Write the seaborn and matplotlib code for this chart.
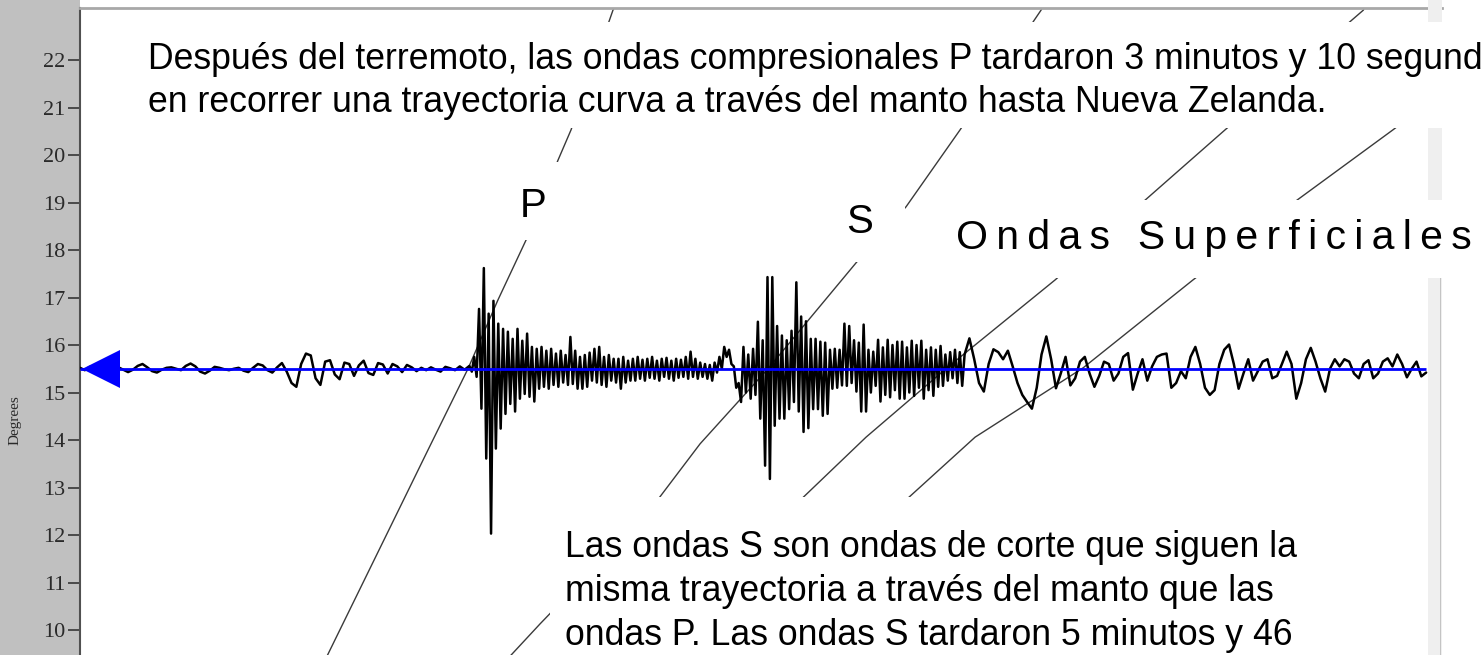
import matplotlib
matplotlib.use("Agg")
import numpy as np
import pandas as pd
import matplotlib.pyplot as plt
from matplotlib.patches import Rectangle
import seaborn as sns

# ---------------------------------------------------------------------------
# Data
# ---------------------------------------------------------------------------
# Epicentral distance of the recording station (degrees)
station_deg = 15.5

# Seismogram sampling: start time (s after origin) and sample interval (s)
trace_start_s = -11.75
sample_step_s = 2.5

# Ground motion before the P arrival, hundredths of a degree from the station line
trace_pre_p = [2, -3, 4, -2, 3, -4, 2, -2, 3, -2,
               -7, -2, 6, 10, 3, -5, -8, -2,
               2, 3, 0, -3, 6, 11, 5, -6,
               -10, -4, 4, 2, -1, -3, 0, 2,
               -4, -7, 2, 10, 7, -3, -8, 3,
               12, -6, -30, -38, 10, 32, 28, -20, -34,
               15, 18, -12, -22, 13, 10, -15, 7, 17, -9, -13, 12, 9, -10, 10, 5, -7, 8, 3,
               -5, 2, -3, 3, -2, -6, 4, 1, -3, 5, -2]

# P and S codas: highest and lowest excursion in each sample interval
coda_high = [6, 25, 126, 212, 116, 143, 95, 84, 78, 63, 84, 59, 74, 46, 42, 46, 38, 42, 32, 38,
             29, 67, 38, 25, 29, 34, 42, 46, 25, 29, 21, 21, 25, 17, 21, 25, 19, 21, 25, 17,
             21, 23, 17, 21, 19, 25, 36, 21, 13, 10, 8, 13, 25, 46, 40, 5, -30, 46, 30, 42,
             99, 60, 193, 193, 90, 70, 60, 80, 182, 110, 100, 63, 63, 57, 55, 40, 42, 40, 95, 90,
             60, 55, 93, 40, 36, 61, 45, 61, 50, 57, 57, 45, 59, 50, 59, 40, 45, 40, 48, 30,
             35, 40, 35]
coda_low = [-6, -17, -84, -189, -347, -168, -126, -95, -74, -90, -63, -53, -59, -69, -42, -38, -42,
            -34, -38, -29, -34, -32, -42, -42, -38, -25, -29, -34, -38, -25, -29, -42, -29, -25,
            -25, -21, -25, -19, -21, -25, -17, -21, -25, -19, -17, -21, -17, -21, -17, -21, -25,
            -8, 0, 25, 10, -40, -70, -50, -63, -55, -105, -204, -232, -120, -105, -105, -85, -70,
            -90, -133, -125, -85, -85, -99, -95, -42, -40, -35, -36, -30, -48, -90, -90, -50, -36,
            -69, -55, -60, -45, -63, -63, -50, -57, -40, -63, -45, -57, -38, -36, -25, -20, -30,
            -36]

# Surface-wave train after the S coda
trace_surface = [30, 64, 20, -30, -48, 10, 41, 35, 20, 38, 5, -30, -55, -70, -84, -40, 30, 68, 20,
                 -41, -10, 25, -35, -20, 15, 25, -10, -38, -15, 15, 10, -25, -10, 25, 33, -44, -10,
                 20, -25, 5, 25, 30, 32, -40, -30, -5, -20, 25, 46, 10, -40, -55, -45, 10, 40, 51,
                 10, -42, -10, 20, -25, -5, 15, 20, -20, -15, 10, 36, 10, -63, -30, 20, 44, 15,
                 -20, -48, 0, 20, 5, 20, 15, -10, -20, 10, 18, -20, -10, 15, 22, 5, 30, 10, -18, 0,
                 15, -16, -8]

# Travel-time curves: epicentral distance (deg) against arrival time (s)
p_dist = [23.3, 23.05, 20.53, 19.89, 18.21, 16.95, 15.5, 13.79, 12.59, 9.45]
p_time = [268.5, 265.4, 243.6, 236.8, 220.2, 205.6, 190.0, 169.2, 154.7, 116.7]

s_dist = [23.3, 23.05, 20.53, 18.91, 17.73, 15.5, 13.92, 12.53, 10.13, 9.45]
s_time = [491.0, 488.0, 445.9, 417.8, 391.8, 346.0, 310.7, 284.7, 227.5, 211.9]

love_dist = [23.3, 23.05, 20.53, 19.05, 17.37, 15.52, 14.06, 12.63, 9.45]
love_time = [658.0, 655.6, 583.7, 542.1, 495.3, 439.1, 397.0, 360.1, 268.5]

rayleigh_dist = [23.05, 20.53, 19.05, 17.37, 15.52, 14.06, 12.53, 9.45]
rayleigh_time = [752.6, 671.0, 621.1, 567.0, 509.9, 453.7, 412.1, 310.7]

deg_ticks = list(range(10, 23))

text_top = ("Después del terremoto, las ondas compresionales P tardaron 3 minutos y 10 segundos\n"
            "en recorrer una trayectoria curva a través del manto hasta Nueva Zelanda.")
text_bottom = ("Las ondas S son ondas de corte que siguen la\n"
               "misma trayectoria a través del manto que las\n"
               "ondas P. Las ondas S tardaron 5 minutos y 46\n"
               "segundos en viajar desde el terremoto hasta")
label_p = "P"
label_s = "S"
label_surface = "Ondas Superficiales"

# ---------------------------------------------------------------------------
# Assemble the trace
# ---------------------------------------------------------------------------
n_pre = len(trace_pre_p)
pre_t = trace_start_s + sample_step_s * np.arange(n_pre)

coda_t0 = trace_start_s + sample_step_s * (n_pre + np.arange(len(coda_high)))
coda_t = np.column_stack([coda_t0, coda_t0 + sample_step_s / 2]).ravel()
coda_v = np.column_stack([coda_high, coda_low]).ravel()

surf_t = trace_start_s + sample_step_s * (n_pre + len(coda_high) + np.arange(len(trace_surface)))

times = np.concatenate([pre_t, coda_t, surf_t])
values = np.concatenate([trace_pre_p, coda_v, trace_surface]) / 100.0
df_trace = pd.DataFrame({"t": times, "deg": station_deg + values})

curves = pd.concat([
    pd.DataFrame({"t": p_time, "deg": p_dist, "phase": "P"}),
    pd.DataFrame({"t": s_time, "deg": s_dist, "phase": "S"}),
    pd.DataFrame({"t": love_time, "deg": love_dist, "phase": "L"}),
    pd.DataFrame({"t": rayleigh_time, "deg": rayleigh_dist, "phase": "R"}),
])

# ---------------------------------------------------------------------------
# Figure
# ---------------------------------------------------------------------------
sns.set_style("white")
plt.rcParams["font.family"] = ["Liberation Sans", "DejaVu Sans"]
plt.rcParams["text.color"] = "black"

W, H = 1483, 655
fig = plt.figure(figsize=(W / 100, H / 100), dpi=100, facecolor="white")


def fx(px):
    return px / W


def fy(py):
    return 1 - py / H


# grey strip behind the degree scale
fig.add_artist(Rectangle((0, 0), fx(80), 1, transform=fig.transFigure,
                         facecolor="#c0c0c0", edgecolor="none", zorder=0))

ax = fig.add_axes([fx(80), 0, fx(1442) - fx(80), 1 - 8 / H])
ax.set_facecolor("white")

for _, grp in curves.groupby("phase", sort=False):
    sns.lineplot(data=grp, x="t", y="deg", sort=False, estimator=None,
                 color="#3a3a3a", linewidth=1.0, ax=ax, zorder=2)

sns.lineplot(data=df_trace, x="t", y="deg", sort=False, estimator=None,
             color="black", linewidth=1.8, ax=ax, zorder=3)
ax.plot([times[0], times[-1]], [station_deg, station_deg],
        color="#0000ff", linewidth=2.0, zorder=4, solid_capstyle="butt")
ax.plot([times[0] + 10.9], [station_deg], marker="<", markersize=27.5,
        color="#0000ff", markeredgewidth=0, zorder=5)

ax.set_xlim(-11.75, 696.5)
ax.set_ylim(9.474, 23.095)
ax.set_xticks([])
ax.set_yticks(deg_ticks)
ax.set_yticklabels([str(d) for d in deg_ticks], family="Liberation Serif",
                   fontsize=16, color="#2a2a2a")
ax.tick_params(axis="y", direction="out", length=9, width=1.3, color="#404040", pad=1.5, left=True)
ax.set_xlabel("")
ax.set_ylabel("")
for side in ["right", "bottom"]:
    ax.spines[side].set_visible(False)
ax.spines["left"].set_color("#505050")
ax.spines["left"].set_linewidth(1.5)
ax.spines["top"].set_color("#a8a8a8")
ax.spines["top"].set_linewidth(2.0)

fig.text(fx(15), fy(420), "Degrees", rotation=90, ha="center", va="center",
         family="Liberation Serif", fontsize=11, color="#2a2a2a")

# light scroll strip at the right edge of the plot
fig.add_artist(Rectangle((fx(1428), 0), fx(1442) - fx(1428), 1, transform=fig.transFigure,
                         facecolor="#efefef", edgecolor="none", zorder=1))
fig.add_artist(Rectangle((fx(1439.5), 0), fx(1.5), fy(278), transform=fig.transFigure,
                         facecolor="#c4c4c4", edgecolor="none", zorder=1))


def white_box(x0, y0, x1, y1):
    fig.add_artist(Rectangle((fx(x0), fy(y1)), fx(x1) - fx(x0), fy(y0) - fy(y1),
                             transform=fig.transFigure, facecolor="white",
                             edgecolor="none", zorder=2))


white_box(140, 22, 1483, 128)
white_box(505, 162, 562, 240)
white_box(832, 207, 905, 262)
white_box(940, 200, 1483, 278)
white_box(550, 497, 1427, 655)

fig.text(fx(148), fy(81), text_top, ha="left", va="center", fontsize=25.7,
         linespacing=1.30, color="black", zorder=3)
fig.text(fx(533), fy(206), label_p, ha="center", va="center", fontsize=29,
         color="black", zorder=3)
fig.text(fx(860), fy(222), label_s, ha="center", va="center", fontsize=29,
         color="black", zorder=3)
fig.text(fx(956), fy(238), "\u2009".join(label_surface), ha="left", va="center",
         fontsize=29.5, color="black", zorder=3)
fig.text(fx(565), fy(530), text_bottom, ha="left", va="top", fontsize=25.7,
         linespacing=1.34, color="black", zorder=3)

fig.savefig("out.png", dpi=100, facecolor="white")
